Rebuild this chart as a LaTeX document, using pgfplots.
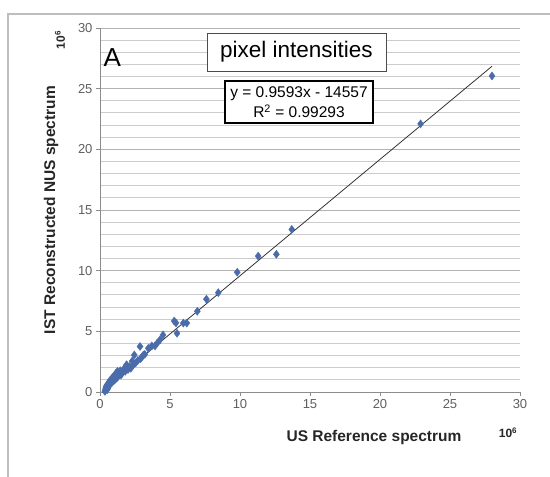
\documentclass[border=0pt]{standalone}
\usepackage{fontspec}
\setmainfont{Liberation Sans}
\usepackage{pgfplots}
\pgfplotsset{compat=1.18}
\definecolor{mk}{RGB}{74,108,170}
\definecolor{axgray}{RGB}{140,140,140}
\definecolor{ticklab}{RGB}{95,95,95}
\begin{document}
\begin{tikzpicture}
\path[use as bounding box] (-100pt,-85pt) rectangle (450pt,392pt);
\draw[color={rgb,255:red,190;green,190;blue,190}, line width=1.4pt] (-92pt,-85pt) -- (-92pt,378pt) -- (450pt,378pt);
\begin{axis}[
  scale only axis, width=420pt, height=364pt,
  xmin=0, xmax=30, ymin=0, ymax=30,
  axis x line*=bottom, axis y line*=left,
  axis line style={color=axgray, line width=0.9pt},
  xtick={0,5,...,30}, ytick={0,5,...,30},
  minor y tick num=4,
  ymajorgrids, yminorgrids,
  major grid style={color=black!30, line width=0.9pt},
  minor grid style={color=black!20, line width=0.9pt},
  tick align=outside, major tick length=4pt, minor tick length=0pt,
  tick style={color=axgray, line width=0.8pt},
  /pgf/number format/assume math mode=true,
  ticklabel style={font=\fontsize{13}{15}\selectfont, color=ticklab},
  clip=false,
]
\addplot[only marks, mark=diamond*, mark size=4pt, color=mk, mark options={fill=mk, draw=mk}] coordinates {
(0.35,0.05) (0.38,0.15) (0.4,0.25) (0.42,0.4) (0.45,0.3) (0.48,0.55) (0.5,0.45) (0.52,0.2)
(0.55,0.6) (0.58,0.35) (0.6,0.7) (0.63,0.5) (0.66,0.85) (0.7,0.6) (0.72,0.95) (0.75,0.7)
(0.8,1.0) (0.83,0.75) (0.86,1.15) (0.9,0.85) (0.95,1.25) (1.0,0.95) (1.05,1.4) (1.1,1.05)
(1.15,1.55) (1.2,1.15) (1.25,1.7) (1.3,1.3) (1.4,1.45) (1.45,1.75) (1.5,1.4) (1.6,1.6)
(1.7,1.9) (1.8,1.7) (1.9,2.25) (2.0,1.85) (2.1,2.1) (2.2,1.95) (2.3,2.55) (2.4,2.25)
(2.45,3.05) (2.55,2.4) (2.7,2.6) (2.86,3.75) (2.9,2.75) (3.0,2.9) (3.1,3.05) (3.2,3.1)
(3.45,3.6) (3.7,3.8) (3.93,3.8) (4.1,4.05) (4.29,4.3) (4.5,4.7) (5.3,5.85) (5.43,5.69)
(5.5,4.84) (5.95,5.68) (6.2,5.68) (6.95,6.65) (7.6,7.65) (8.45,8.19) (9.8,9.87)
(11.3,11.2) (12.6,11.35) (13.7,13.4) (22.9,22.1) (28.0,26.05)
};
\addplot[color=black!80, line width=0.8pt] coordinates {(0.35,0.321) (28.0,26.846)};
\end{axis}
\node[anchor=base west, font=\fontsize{26}{30}\selectfont] at (0pt,325pt) {A};
\node[draw=black!70, line width=0.9pt, minimum width=179pt, minimum height=38pt, inner sep=0pt, fill=white, font=\fontsize{22.5}{26}\selectfont] at (196.5pt,340pt) {pixel intensities};
\node[draw=black, line width=1.4pt, minimum width=148pt, minimum height=42pt, inner sep=0pt, fill=white, align=center, font=\fontsize{15.5}{20}\selectfont] at (199pt,290pt) {y = 0.9593x - 14557\\R\textsuperscript{2} = 0.99293};
\node[font=\bfseries\fontsize{15.5}{18}\selectfont, color=black!85] at (274pt,-45pt) {US Reference spectrum};
\node[rotate=90, font=\bfseries\fontsize{15.5}{18}\selectfont, color=black!85] at (-49pt,182pt) {IST Reconstructed NUS spectrum};
\node[font=\bfseries\fontsize{12}{14}\selectfont, color=black!85] at (408pt,-41pt) {10\textsuperscript{6}};
\node[rotate=90, font=\bfseries\fontsize{12}{14}\selectfont, color=black!85] at (-40pt,352pt) {10\textsuperscript{6}};
\end{tikzpicture}
\end{document}
